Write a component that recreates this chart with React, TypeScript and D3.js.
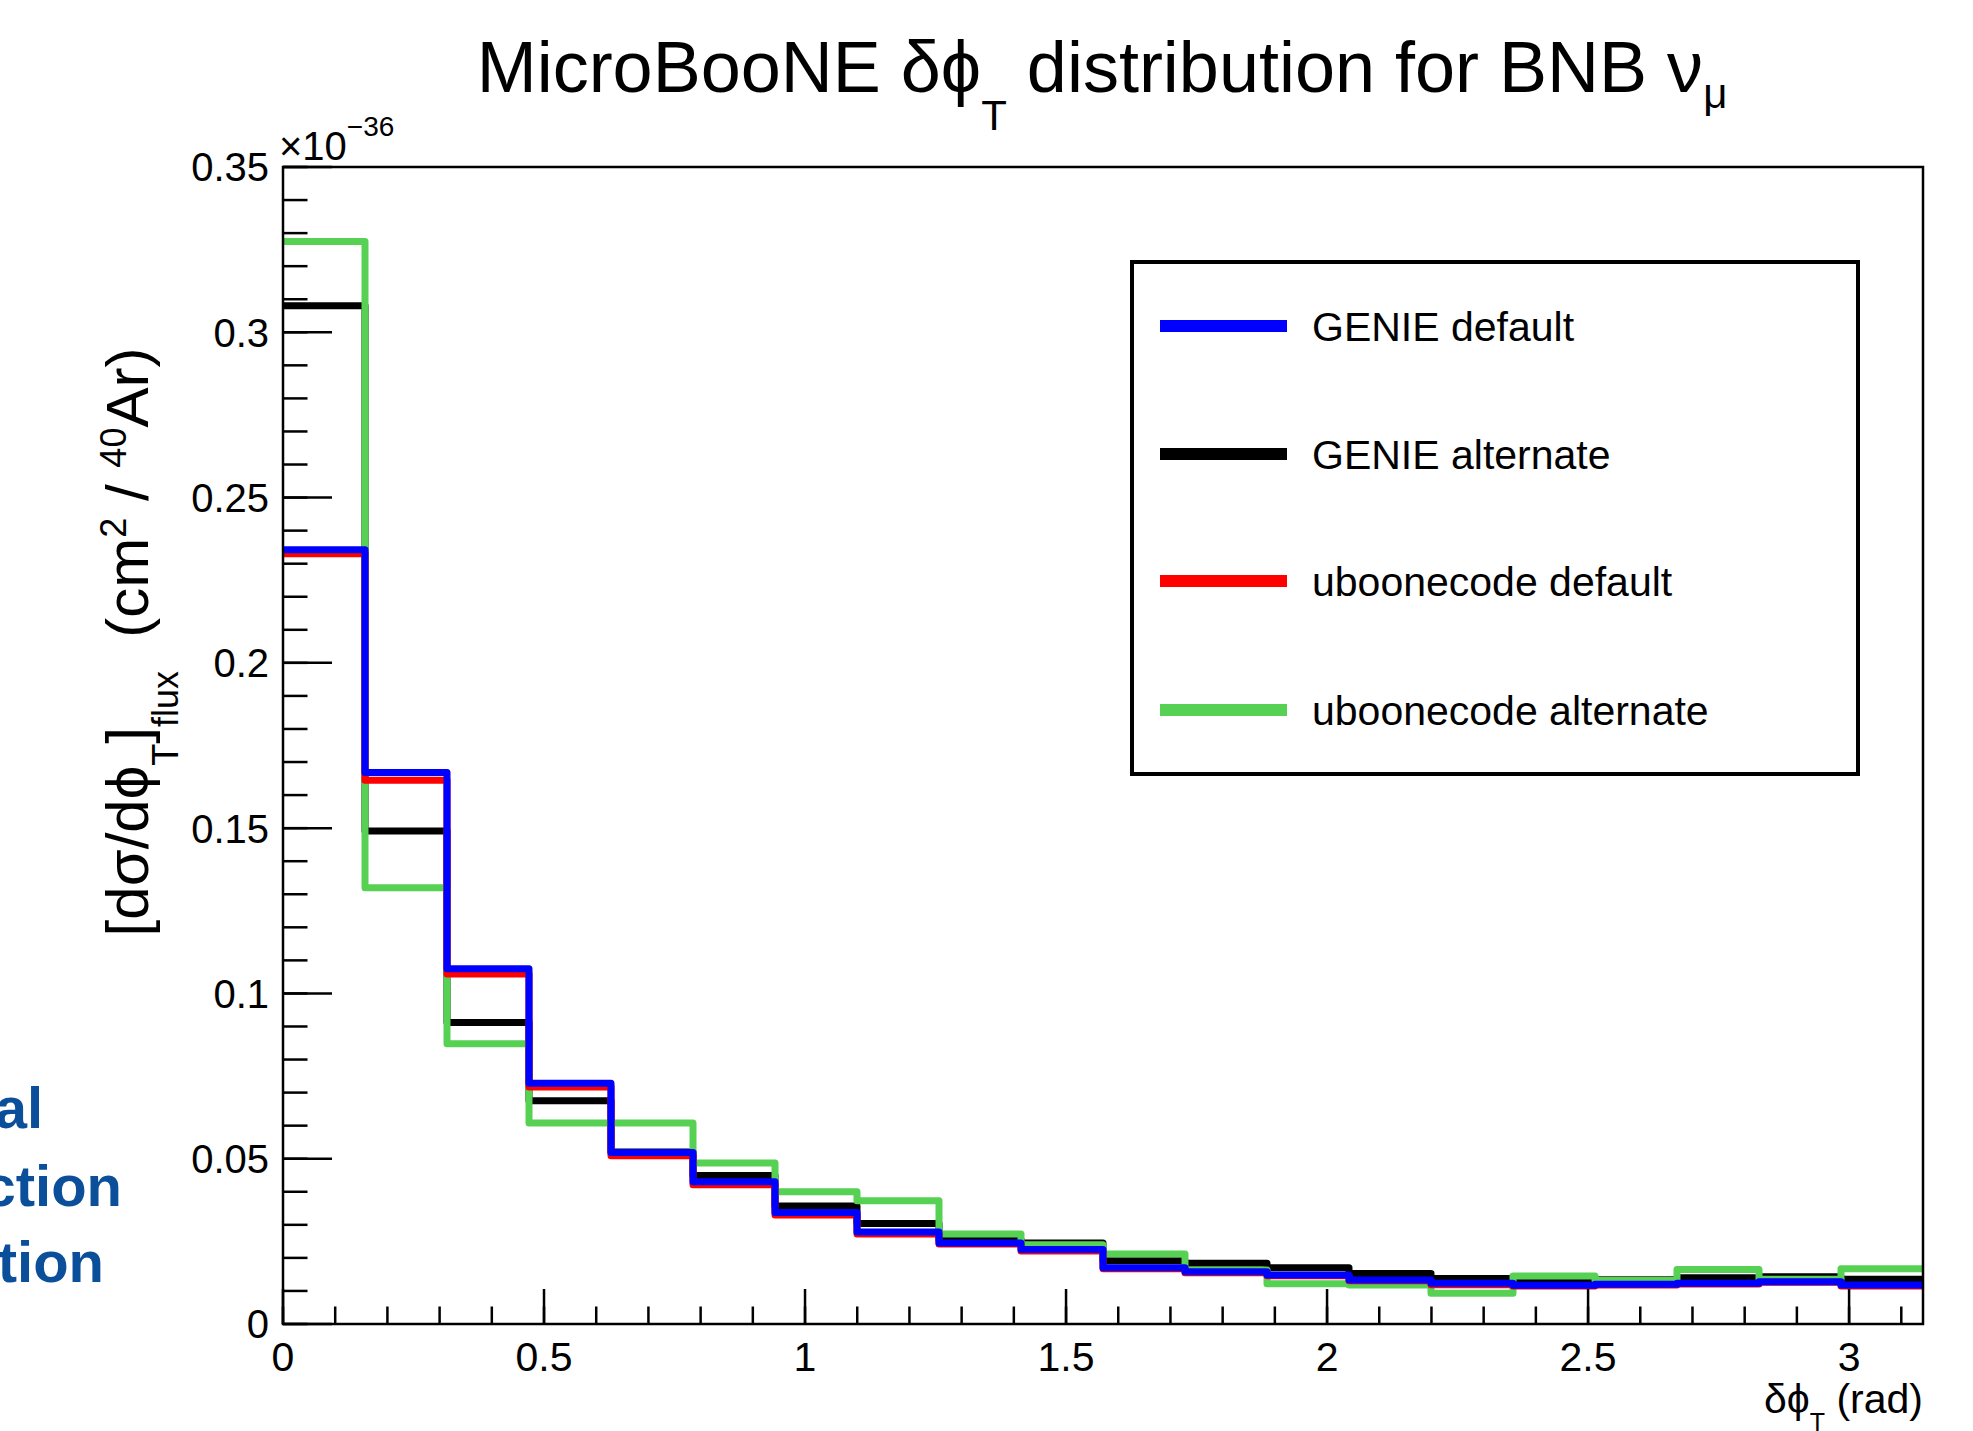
import * as d3 from 'd3';

const W = 1973;
const H = 1431;
const FONT = "'Liberation Sans', Arial, Helvetica, sans-serif";

// 20 bins of delta phi_T over [0, pi]
const N_BINS = 20;
const X_MAX = Math.PI;
const Y_MAX = 0.35; // x10^-36

const genieDefault = [0.2342, 0.1668, 0.1075, 0.0728, 0.0519, 0.0430, 0.0337, 0.0278, 0.0245, 0.0225,
  0.0170, 0.0158, 0.0148, 0.0133, 0.0123, 0.0117, 0.0120, 0.0123, 0.0128, 0.0118];
const genieAlternate = [0.3080, 0.1491, 0.0912, 0.0675, 0.0520, 0.0449, 0.0357, 0.0304, 0.0255, 0.0245,
  0.0191, 0.0184, 0.0170, 0.0153, 0.0138, 0.0133, 0.0134, 0.0140, 0.0143, 0.0135];
const uboonecodeDefault = [0.2330, 0.1645, 0.1059, 0.0717, 0.0509, 0.0421, 0.0330, 0.0272, 0.0242, 0.0221,
  0.0167, 0.0155, 0.0146, 0.0131, 0.0119, 0.0115, 0.0118, 0.0121, 0.0126, 0.0115];
const uboonecodeAlternate = [0.3275, 0.1320, 0.0848, 0.0608, 0.0608, 0.0487, 0.0400, 0.0373, 0.0272, 0.0240,
  0.0212, 0.0163, 0.0122, 0.0118, 0.0093, 0.0145, 0.0132, 0.0165, 0.0135, 0.0167];

const series = [
  { name: 'GENIE default', color: '#0000ff', values: genieDefault },
  { name: 'GENIE alternate', color: '#000000', values: genieAlternate },
  { name: 'uboonecode default', color: '#ff0000', values: uboonecodeDefault },
  { name: 'uboonecode alternate', color: '#57d154', values: uboonecodeAlternate },
];
// drawing order (last on top)
const drawOrder = ['GENIE alternate', 'uboonecode alternate', 'uboonecode default', 'GENIE default'];

const frame = { left: 283, right: 1923, top: 167, bottom: 1324 };
const PHI = '\u03d5';

export default function App() {
  const x = d3.scaleLinear().domain([0, X_MAX]).range([frame.left, frame.right]);
  const y = d3.scaleLinear().domain([0, Y_MAX]).range([frame.bottom, frame.top]);
  const fmt = d3.format('~g');

  const step = d3.line<[number, number]>()
    .x(d => x(d[0])).y(d => y(d[1]))
    .curve(d3.curveStepAfter);

  const histPath = (vals: number[]) => {
    const pts: [number, number][] = vals.map((v, i) => [i * X_MAX / N_BINS, v]);
    pts.push([X_MAX, vals[vals.length - 1]]);
    return step(pts) || '';
  };

  const yMajor = y.ticks(7);
  const yMinor = y.ticks(35);
  const xMajor = x.ticks(7);
  const xMinor = x.ticks(31);
  const yTickLen = 49, xTickLen = 35;

  const legend = { x0: 1132, y0: 262, x1: 1858, y1: 774 };
  const legendRows = [326, 454, 581, 710];

  return (
    <div style={{ position: 'absolute', left: 0, top: 0 }}>
      <svg width={W} height={H} style={{ display: 'block', background: '#fff' }} fontFamily={FONT}>
        <rect width={W} height={H} fill="#fff" />

        {/* cut-off slide text on the left */}
        <g fill="#0b4f9b" fontWeight="bold" fontSize={58} textAnchor="end">
          <text x={43} y={1128}>al</text>
          <text x={122} y={1206}>ction</text>
          <text x={104} y={1282}>tion</text>
        </g>

        {/* title */}
        <text x={1102} y={92} fontSize={72} textAnchor="middle" fill="#000">
          MicroBooNE δ{PHI}
          <tspan fontSize={42} dy={38}>T</tspan>
          <tspan dy={-38}> distribution for BNB ν</tspan>
          <tspan fontSize={42} dy={16}>μ</tspan>
        </text>

        {/* histograms */}
        {drawOrder.map(n => {
          const s = series.find(d => d.name === n)!;
          return (
            <path key={n} d={histPath(s.values)} fill="none" stroke={s.color}
              strokeWidth={7} strokeLinejoin="round" />
          );
        })}

        {/* frame */}
        <rect x={frame.left} y={frame.top} width={frame.right - frame.left} height={frame.bottom - frame.top}
          fill="none" stroke="#000" strokeWidth={2.5} />

        {/* y ticks */}
        {yMinor.map(t => (
          <line key={'ym' + t} x1={frame.left} x2={frame.left + yTickLen / 2} y1={y(t)} y2={y(t)} stroke="#000" strokeWidth={2.5} />
        ))}
        {yMajor.map(t => (
          <g key={'yM' + t}>
            <line x1={frame.left} x2={frame.left + yTickLen} y1={y(t)} y2={y(t)} stroke="#000" strokeWidth={2.5} />
            <text x={frame.left - 14} y={y(t)} dy="0.36em" textAnchor="end" fontSize={40}>{fmt(t)}</text>
          </g>
        ))}

        {/* x ticks */}
        {xMinor.map(t => (
          <line key={'xm' + t} x1={x(t)} x2={x(t)} y1={frame.bottom} y2={frame.bottom - xTickLen / 2} stroke="#000" strokeWidth={2.5} />
        ))}
        {xMajor.map(t => (
          <g key={'xM' + t}>
            <line x1={x(t)} x2={x(t)} y1={frame.bottom} y2={frame.bottom - xTickLen} stroke="#000" strokeWidth={2.5} />
            <text x={x(t)} y={1371} textAnchor="middle" fontSize={41}>{fmt(t)}</text>
          </g>
        ))}

        {/* exponent */}
        <text x={frame.left - 4} y={160} fontSize={40}>
          ×10<tspan fontSize={28} dy={-24}>−36</tspan>
        </text>

        {/* x axis title */}
        <text x={frame.right} y={1413} textAnchor="end" fontSize={41}>
          δ{PHI}<tspan fontSize={25} dy={18}>T</tspan><tspan dy={-18}> (rad)</tspan>
        </text>

        {/* y axis title */}
        <text transform="translate(148,642) rotate(-90)" textAnchor="middle" fontSize={60}>
          [dσ/d{PHI}<tspan fontSize={36} dy={30}>T</tspan>
          <tspan dy={-30}>]</tspan>
          <tspan fontSize={36} dy={30}>flux</tspan>
          <tspan dy={-30}>{'\u00a0\u00a0(cm'}</tspan>
          <tspan fontSize={36} dy={-22}>2</tspan>
          <tspan dy={22}>{'\u00a0/\u00a0'}</tspan>
          <tspan fontSize={36} dy={-22}>40</tspan>
          <tspan dy={22}>Ar)</tspan>
        </text>

        {/* legend */}
        <rect x={legend.x0} y={legend.y0} width={legend.x1 - legend.x0} height={legend.y1 - legend.y0}
          fill="#fff" stroke="#000" strokeWidth={4} />
        {series.map((s, i) => (
          <g key={s.name}>
            <line x1={1160} x2={1287} y1={legendRows[i]} y2={legendRows[i]} stroke={s.color} strokeWidth={12} />
            <text x={1312} y={legendRows[i]} dy="0.36em" fontSize={41}>{s.name}</text>
          </g>
        ))}
      </svg>
    </div>
  );
}
